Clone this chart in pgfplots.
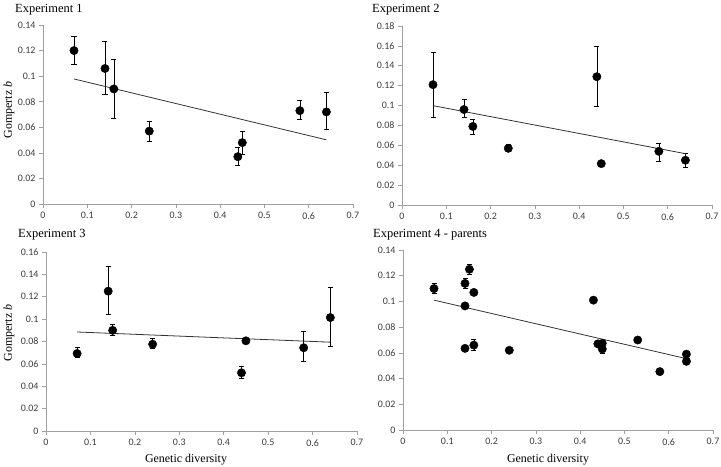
\documentclass[border=0pt]{standalone}
\usepackage{pgfplots}
\pgfplotsset{compat=1.18}
\usepackage{fontspec}
\setmainfont{Liberation Serif}
\newfontfamily\calib{Carlito}
\definecolor{axgray}{RGB}{160,160,160}
\definecolor{lblgray}{RGB}{60,60,60}
\pgfplotsset{
  panel/.style={
    scale only axis, width=310bp, height=179bp, anchor=south west,
    axis lines=left, axis line style={-, axgray, line width=0.8pt},
    xmin=0, xmax=0.7, ymin=0,
    xtick={0,0.1,...,0.7},
    tick align=outside, major tick length=4bp,
    tick style={axgray, line width=0.6pt},
    /pgf/number format/assume math mode=true,
    /pgf/number format/fixed,
    /pgf/number format/precision=2,
    scaled ticks=false,
    ticklabel style={font=\calib\fontsize{10}{12}\selectfont, text=lblgray},
    xticklabel style={yshift=-1bp},
    clip=false,
  },
  pts/.style={only marks, mark=*, mark size=4.2bp, black,
    mark options={fill=black, draw=black},
    error bars/.cd, y dir=both, y explicit,
    error bar style={black, line width=0.7pt},
    error mark options={rotate=90, black, mark size=2.5bp, line width=0.7pt}},
  trend/.style={color=black!80, line width=0.8pt, no marks},
}
\begin{document}
\begin{tikzpicture}
\path[use as bounding box] (0,0) rectangle (721bp,467bp);
% Panel 1
\begin{axis}[panel, at={(43bp,263bp)}, ymax=0.14, ytick={0,0.02,...,0.14}]
\addplot[pts] table[x=x, y=y, y error plus=ep, y error minus=em] {
x y ep em
0.07 0.120 0.011 0.011
0.14 0.106 0.021 0.020
0.16 0.090 0.023 0.023
0.24 0.057 0.008 0.008
0.44 0.037 0.007 0.007
0.45 0.048 0.009 0.009
0.58 0.073 0.008 0.007
0.64 0.072 0.015 0.014
};
\addplot[trend] coordinates {(0.07,0.0978) (0.64,0.0502)};
\end{axis}
% Panel 2
\begin{axis}[panel, at={(402bp,262bp)}, ymax=0.18, ytick={0,0.02,...,0.18}]
\addplot[pts] table[x=x, y=y, y error plus=ep, y error minus=em] {
x y ep em
0.07 0.121 0.032 0.033
0.14 0.096 0.010 0.008
0.16 0.079 0.007 0.008
0.24 0.057 0.004 0.003
0.44 0.129 0.031 0.030
0.45 0.0416 0.001 0.001
0.58 0.054 0.008 0.010
0.64 0.045 0.007 0.007
};
\addplot[trend] coordinates {(0.07,0.0999) (0.64,0.0516)};
\end{axis}
% Panel 3
\begin{axis}[panel, at={(46bp,36bp)}, width=311bp, ymax=0.16, ytick={0,0.02,...,0.16}]
\addplot[pts] table[x=x, y=y, y error plus=ep, y error minus=em] {
x y ep em
0.07 0.0693 0.0057 0.0033
0.14 0.125 0.022 0.021
0.15 0.090 0.0055 0.0043
0.24 0.0776 0.0054 0.0036
0.44 0.052 0.006 0.005
0.45 0.0806 0.001 0.001
0.58 0.0744 0.0146 0.0124
0.64 0.1014 0.0266 0.0254
};
\addplot[trend] coordinates {(0.07,0.0885) (0.64,0.0794)};
\end{axis}
% Panel 4
\begin{axis}[panel, at={(403bp,37bp)}, height=180bp, ymax=0.14, ytick={0,0.02,...,0.14}]
\addplot[pts] table[x=x, y=y, y error plus=ep, y error minus=em] {
x y ep em
0.07 0.110 0.004 0.004
0.14 0.114 0.004 0.004
0.15 0.125 0.004 0.004
0.16 0.107 0.001 0.001
0.14 0.0965 0.002 0.002
0.14 0.0635 0.002 0.002
0.16 0.066 0.0045 0.004
0.24 0.062 0.001 0.001
0.43 0.101 0.001 0.001
0.44 0.067 0.002 0.002
0.45 0.0674 0.002 0.002
0.45 0.063 0.003 0.003
0.53 0.070 0.001 0.001
0.58 0.0454 0.001 0.001
0.64 0.059 0.002 0.002
0.64 0.0534 0.002 0.002
};
\addplot[trend] coordinates {(0.07,0.101) (0.64,0.0555)};
\end{axis}
% Titles and labels
\node[anchor=base west, inner sep=0, font=\fontsize{12.5}{14}\selectfont] at (15bp,454bp) {Experiment 1};
\node[anchor=base west, inner sep=0, font=\fontsize{12.5}{14}\selectfont] at (372bp,454bp) {Experiment 2};
\node[anchor=base west, inner sep=0, font=\fontsize{12.5}{14}\selectfont] at (18bp,229bp) {Experiment 3};
\node[anchor=base west, inner sep=0, font=\fontsize{12.5}{14}\selectfont] at (373bp,229bp) {Experiment 4 - parents};
\node[rotate=90, inner sep=0, font=\fontsize{12}{14}\selectfont] at (9bp,357bp) {Gompertz \textit{b}};
\node[rotate=90, inner sep=0, font=\fontsize{12}{14}\selectfont] at (9bp,134bp) {Gompertz \textit{b}};
\node[anchor=base, inner sep=0, font=\fontsize{12}{14}\selectfont] at (186bp,5bp) {Genetic diversity};
\node[anchor=base, inner sep=0, font=\fontsize{12}{14}\selectfont] at (548bp,5bp) {Genetic diversity};
\end{tikzpicture}
\end{document}
